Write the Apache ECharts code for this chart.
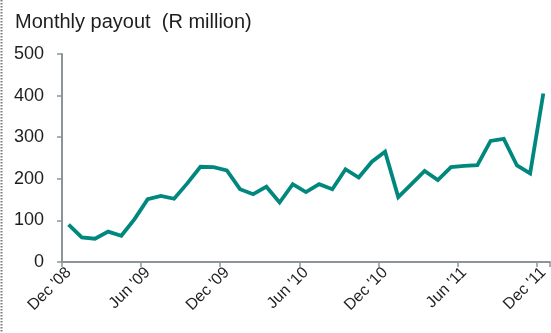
<!DOCTYPE html>
<html>
<head>
<meta charset="utf-8">
<script src="https://cdn.jsdelivr.net/npm/echarts@6/dist/echarts.min.js"></script>
<style>
  html, body { margin: 0; padding: 0; background: #fff; }
  #chart { width: 551px; height: 333px; }
</style>
</head>
<body>
<div id="chart"></div>
<script>
// Months from Dec '08 to Dec '11
const months = [
  "Dec '08", "Jan '09", "Feb '09", "Mar '09", "Apr '09", "May '09",
  "Jun '09", "Jul '09", "Aug '09", "Sep '09", "Oct '09", "Nov '09",
  "Dec '09", "Jan '10", "Feb '10", "Mar '10", "Apr '10", "May '10",
  "Jun '10", "Jul '10", "Aug '10", "Sep '10", "Oct '10", "Nov '10",
  "Dec '10", "Jan '11", "Feb '11", "Mar '11", "Apr '11", "May '11",
  "Jun '11", "Jul '11", "Aug '11", "Sep '11", "Oct '11", "Nov '11",
  "Dec '11"
];

// Monthly payout, R million
const payout = [
  90, 59, 56, 73, 63, 103,
  151, 159, 152, 189, 229, 228,
  220, 175, 163, 181, 143, 187,
  168, 187, 175, 223, 203, 241,
  265, 156, 187, 219, 197, 228,
  231, 233, 291, 296, 232, 213,
  405
];

const yTicks = [0, 100, 200, 300, 400, 500];

const axisGrey = '#8d9497';
const textColor = '#1e1e1e';
const font = 'Liberation Sans, Arial, sans-serif';

const chart = echarts.init(document.getElementById('chart'), null, { renderer: 'canvas' });

chart.setOption({
  animation: false,
  backgroundColor: '#ffffff',
  title: {
    text: 'Monthly payout  (R million)',
    left: 10,
    top: 7,
    textStyle: { fontFamily: font, fontSize: 20, fontWeight: 'normal', color: textColor }
  },
  grid: {
    left: 62,
    top: 54,
    width: 495,
    height: 208,
    containLabel: false
  },
  xAxis: {
    type: 'category',
    data: months,
    boundaryGap: true,
    axisLine: { show: true, lineStyle: { color: axisGrey, width: 2 } },
    axisTick: { show: true, interval: 5, length: 5, lineStyle: { color: axisGrey, width: 1.5 } },
    axisLabel: {
      interval: 5,
      rotate: 45,
      margin: 8,
      fontFamily: font,
      fontSize: 16,
      color: textColor
    },
    splitLine: { show: false }
  },
  yAxis: {
    type: 'value',
    min: yTicks[0],
    max: yTicks[yTicks.length - 1],
    interval: 100,
    axisLine: { show: true, lineStyle: { color: axisGrey, width: 2 } },
    axisTick: { show: true, length: 5, lineStyle: { color: axisGrey, width: 1.5 } },
    axisLabel: {
      margin: 18,
      fontFamily: font,
      fontSize: 18,
      color: textColor
    },
    splitLine: { show: false }
  },
  series: [{
    type: 'line',
    data: payout,
    symbol: 'none',
    lineStyle: { color: '#00887f', width: 3.8, join: 'miter' },
    clip: false
  }],
  graphic: [{
    type: 'line',
    shape: { x1: 1.5, y1: 0, x2: 1.5, y2: 333 },
    style: { stroke: '#7a7a7a', lineWidth: 2, lineDash: [1.5, 1.5] },
    silent: true
  }]
});
</script>
</body>
</html>
